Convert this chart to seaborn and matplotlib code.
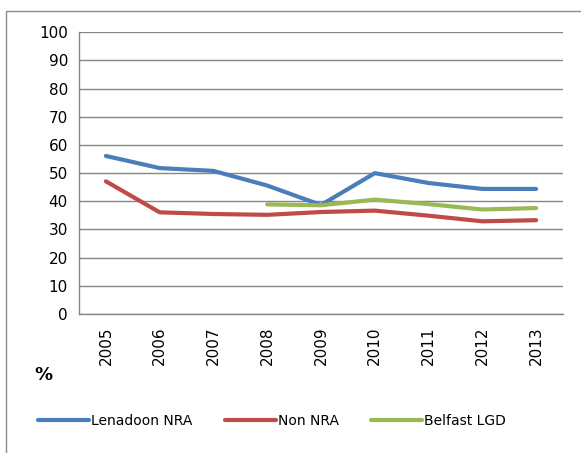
import numpy as np
import pandas as pd
import matplotlib
matplotlib.use("Agg")
import matplotlib.pyplot as plt
import seaborn as sns
from matplotlib.patches import Rectangle

# values (%)
years = [2005, 2006, 2007, 2008, 2009, 2010, 2011, 2012, 2013]
lenadoon_nra = [56.1, 51.8, 50.8, 45.6, 38.7, 50.0, 46.5, 44.4, 44.4]
non_nra = [47.1, 36.1, 35.5, 35.2, 36.2, 36.7, 34.9, 32.9, 33.3]
belfast_lgd = [np.nan, np.nan, np.nan, 38.9, 38.6, 40.6, 39.0, 37.1, 37.6]

series_names = ["Lenadoon NRA", "Non NRA", "Belfast LGD"]
palette = ["#4A7EBB", "#BE4B48", "#98B954"]

df = pd.DataFrame({
    "year": years * 3,
    "value": lenadoon_nra + non_nra + belfast_lgd,
    "series": sum([[n] * len(years) for n in series_names], []),
}).dropna()

sns.set_style("white")
plt.rcParams["font.family"] = ["DejaVu Sans"]
plt.rcParams["text.color"] = "black"
plt.rcParams["xtick.color"] = "black"
plt.rcParams["ytick.color"] = "black"

fig = plt.figure(figsize=(5.81, 4.53), dpi=100)
ax = fig.add_axes([79 / 581, 1 - 314 / 453, (563 - 79) / 581, (314 - 32.3) / 453])

sns.lineplot(data=df, x="year", y="value", hue="series", hue_order=series_names,
             palette=palette, linewidth=3, ax=ax, legend=True)

grid_c = "#868686"
ax.set_xlim(2004.5, 2013.5)
ax.set_ylim(0, 100)
ax.set_yticks(range(0, 101, 10))
ax.yaxis.grid(True, color=grid_c, linewidth=1)
ax.set_axisbelow(True)
ax.set_xticks(years)
ax.set_xticklabels([str(y) for y in years], rotation=90, fontsize=11)
ax.set_xticks(np.arange(2004.5, 2014, 1), minor=True)
ax.tick_params(axis="x", which="major", length=0, pad=9, labelcolor="black")
ax.tick_params(axis="x", which="minor", length=5, color=grid_c, width=1, direction="out")
ax.tick_params(axis="y", length=5, color=grid_c, width=1, direction="out",
               labelsize=11, pad=3, labelcolor="black")
for s in ["top", "right"]:
    ax.spines[s].set_visible(False)
for s in ["left", "bottom"]:
    ax.spines[s].set_color(grid_c)
    ax.spines[s].set_linewidth(1)
ax.set_xlabel("")
ax.set_ylabel("")

fig.text(43 / 581, 1 - 375 / 453, "%", fontsize=13, fontweight="bold", ha="center", va="center")

handles, labels = ax.get_legend_handles_labels()
ax.get_legend().remove()
fig.legend(handles, labels, loc="center", ncol=3, frameon=False, fontsize=10,
           bbox_to_anchor=(272 / 581, 1 - 421 / 453), handlelength=3.7,
           handletextpad=0.15, columnspacing=2.3)

# outer chart frame (partly off the image)
fig.patches.append(Rectangle((6 / 581, -0.05), 1.1, 1 - 11 / 453 + 0.05, transform=fig.transFigure,
                             fill=False, edgecolor="#8C8C8C", linewidth=1))

fig.savefig("out.png", dpi=100)
